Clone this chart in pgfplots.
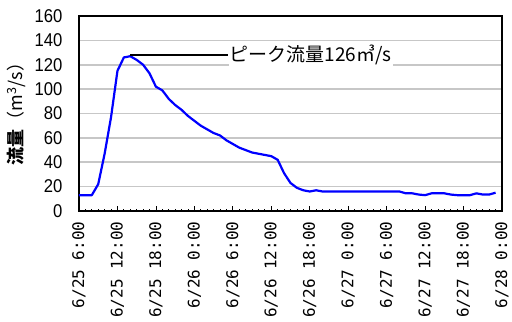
\documentclass[border=0pt]{standalone}
\usepackage{pgfplots}
\pgfplotsset{compat=1.18}
\usepackage{fontspec}
\setmainfont{Liberation Sans}
\newfontfamily\cjk{Noto Sans CJK JP}
\newfontfamily\ytf[FakeStretch=0.9]{Liberation Sans}
\newfontfamily\xtf{DejaVu Sans Mono}
\begin{document}
\begin{tikzpicture}
\begin{axis}[
  scale only axis, width=423bp, height=195bp,
  at={(0,0)}, anchor=south west,
  xmin=0, xmax=66, ymin=0, ymax=160,
  xtick={0,6,...,66},
  xticklabels={6/25 6:00,6/25 12:00,6/25 18:00,6/26 0:00,6/26 6:00,6/26 12:00,6/26 18:00,6/27 0:00,6/27 6:00,6/27 12:00,6/27 18:00,6/28 0:00},
  minor x tick num=5,
  xtick pos=bottom, ytick pos=left,
  major tick length=5bp, minor tick length=2.5bp,
  tick align=inside,
  xtick style={black, line width=0.8bp},
  ytick={0,20,...,160},
  ytick style={draw=none},
  ymajorgrids,
  major grid style={draw=black!22, line width=1.6bp},
  axis line style={black, line width=1.4bp},
  xticklabel style={rotate=90, anchor=east, font=\xtf\fontsize{16bp}{18bp}\selectfont},
  xticklabel shift=7bp,
  yticklabel style={font=\ytf\fontsize{18.5bp}{20bp}\selectfont, xshift=-13bp},
  /pgf/number format/assume math mode=true,
  ylabel={\cjk\fontsize{18bp}{19bp}\selectfont\textbf{流量}（m\textsuperscript{3}/s）},
  ylabel style={at={(axis description cs:-0.147,0.52)}, anchor=center},
  clip=false,
]
\addplot[color={rgb,255:red,0;green,0;blue,255}, line width=2.2bp, line join=round] coordinates {
(0,13)(1,13)(2,13)(3,22)(4,47)(5,77)(6,115)(7,126)(8,127)(9,124)(10,120)
(11,113)(12,102)(13,99)(14,92)(15,87)(16,83)(17,78)(18,74)(19,70)(20,67)
(21,64)(22,62)(23,58)(24,55)(25,52)(26,50)(27,48)(28,47)(29,46)(30,45)
(31,42)(32,31)(33,23)(34,19)(35,17)(36,16)(37,17)(38,16)(39,16)(40,16)
(41,16)(42,16)(43,16)(44,16)(45,16)(46,16)(47,16)(48,16)(49,16)(50,16)
(51,14.5)(52,14.5)(53,13.5)(54,13)(55,14.5)(56,14.5)(57,14.5)(58,13.5)(59,13)(60,13)
(61,13)(62,14.5)(63,13.5)(64,13.5)(65,15)
};
\draw[black, line width=1.6bp] (axis cs:8,128) -- (axis cs:23.2,128);
\node[fill=white, anchor=west, inner sep=1bp, font=\cjk\fontsize{19bp}{20bp}\selectfont] at (axis cs:23.3,128) {ピーク流量126㎥/s};
\end{axis}
\pgfresetboundingbox
\path[use as bounding box] (-79bp,-111bp) rectangle (433bp,211bp);
\end{tikzpicture}
\end{document}
